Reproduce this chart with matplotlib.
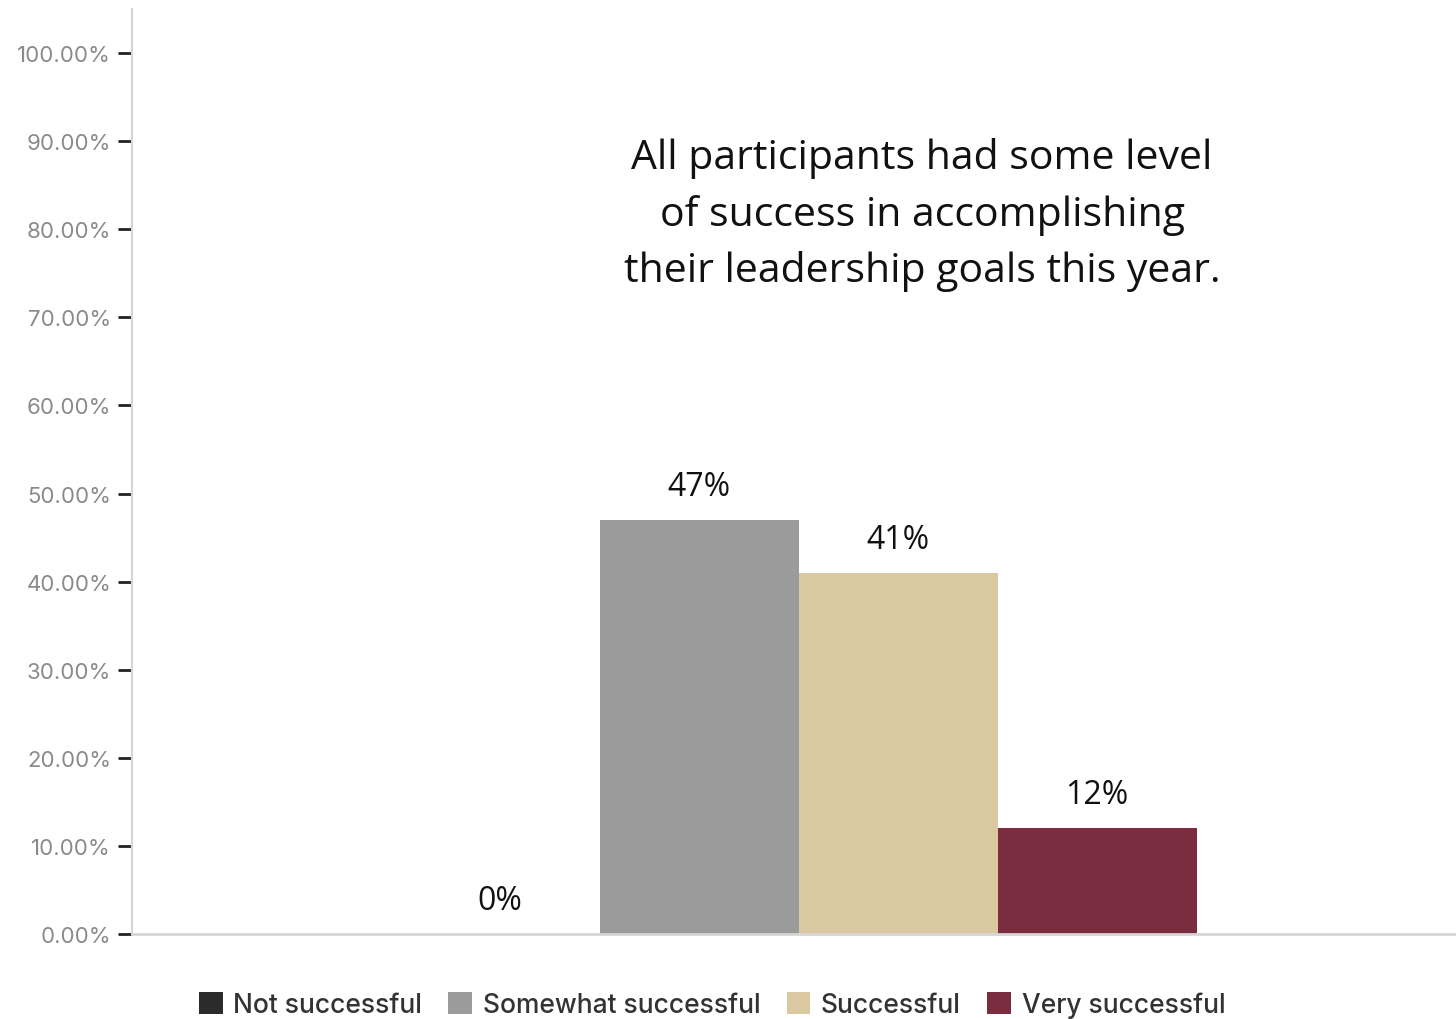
import matplotlib
matplotlib.use("Agg")
import matplotlib.pyplot as plt
from matplotlib.patches import Patch
import numpy as np

# data
categories = ["Not successful", "Somewhat successful", "Successful", "Very successful"]
values = [0, 47, 41, 12]
value_labels = ["0%", "47%", "41%", "12%"]
colors = ["#2b2b2b", "#9b9b9b", "#dac9a0", "#7b2c3f"]
yticks = [0, 10, 20, 30, 40, 50, 60, 70, 80, 90, 100]
note = "All participants had some level\nof success in accomplishing\ntheir leadership goals this year."

fig = plt.figure(figsize=(14.56, 10.2), dpi=100)
ax = fig.add_axes([132 / 1456, 1 - 935 / 1020, 1 - 132 / 1456, 925 / 1020])

width = 0.1503
offsets = (np.arange(len(values)) - 1.5) * width
ax.bar(offsets, values, width=width, color=colors, linewidth=0)

for x, v, lab in zip(offsets, values, value_labels):
    ax.text(x, v + 3.8, lab, ha="center", va="center", fontsize=23,
            family="Open Sans", color="#111111")

ax.set_xlim(-0.5035, 0.4965)
ax.set_ylim(0, 105)
ax.set_xticks([])
ax.set_yticks(yticks)
ax.set_yticklabels([f"{t:.2f}%" for t in yticks], fontsize=16,
                   color="#8a8a8a", family="Inter")
ax.tick_params(axis="y", length=10, width=2, color="#222222", pad=5)

for side in ("top", "right"):
    ax.spines[side].set_visible(False)
ax.spines["left"].set_color("#d6d6d6")
ax.spines["bottom"].set_color("#d6d6d6")
ax.spines["left"].set_linewidth(1.5)
ax.spines["bottom"].set_linewidth(2)

fig.text(922 / 1456, 1 - 215 / 1020, note, ha="center", va="center",
         fontsize=29.5, family="Open Sans", color="#111111", linespacing=1.5)

handles = [Patch(facecolor=c, edgecolor="none", label=l) for c, l in zip(colors, categories)]
fig.legend(handles=handles, loc="center", bbox_to_anchor=(712 / 1456, 1 - 1006 / 1020),
           ncol=4, frameon=False, handlelength=0.9, handleheight=0.9,
           handletextpad=0.4, columnspacing=1.0, labelcolor="#333333",
           prop={"family": "Inter", "size": 19, "weight": "medium"})

fig.savefig("out.png", dpi=100)
